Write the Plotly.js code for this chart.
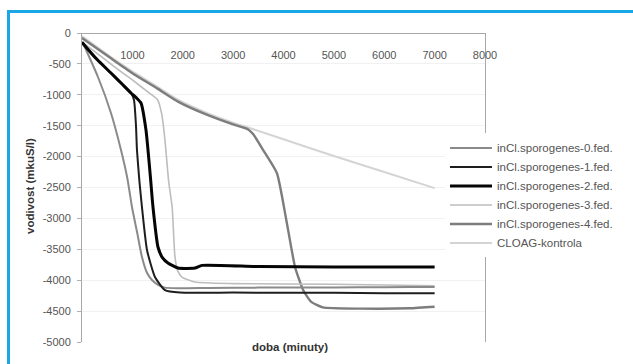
<!DOCTYPE html>
<html>
<head>
<meta charset="utf-8">
<script src="https://cdn.plot.ly/plotly-3.0.1.min.js"></script>
<style>
  html, body { margin: 0; padding: 0; background: #ffffff; }
  #wrap { position: relative; width: 633px; height: 364px; overflow: hidden; }
  #frame { position: absolute; left: 7px; top: 10px; width: 640px; height: 370px;
           border-left: 3px solid #1ba6e6; border-top: 3px solid #1ba6e6; box-sizing: border-box; }
  #chart { position: absolute; left: 0; top: 0; width: 633px; height: 364px; }
</style>
</head>
<body>
<div id="wrap">
  <div id="frame"></div>
  <div id="chart"></div>
</div>
<script>
// time in minutes, conductivity values
const seriesNames = [
  'inCl.sporogenes-0.fed.',
  'inCl.sporogenes-1.fed.',
  'inCl.sporogenes-2.fed.',
  'inCl.sporogenes-3.fed.',
  'inCl.sporogenes-4.fed.',
  'CLOAG-kontrola'
];

const t0 = [0, 20, 317, 575, 774, 900, 992, 1100, 1190, 1290, 1389, 1500, 1647, 1900, 2500, 3500, 4500, 5500, 6500, 7000];
const v0 = [-150, -170, -712, -1294, -1893, -2350, -2816, -3250, -3625, -3880, -3997, -4070, -4120, -4130, -4125, -4120, -4120, -4115, -4110, -4110];

const t1 = [0, 20, 300, 575, 800, 972, 1032, 1071, 1091, 1140, 1190, 1290, 1448, 1647, 1944, 3000, 4000, 5000, 6000, 7000];
const v1 = [-150, -170, -430, -647, -830, -971, -1084, -1489, -1893, -2400, -2816, -3511, -3948, -4160, -4200, -4200, -4205, -4205, -4210, -4210];

const t2 = [0, 20, 300, 575, 800, 972, 1080, 1171, 1270, 1310, 1360, 1409, 1508, 1600, 1706, 1905, 2242, 2381, 3500, 5000, 7000];
const v2 = [-150, -170, -430, -647, -830, -971, -1050, -1133, -1570, -1893, -2350, -2816, -3463, -3640, -3722, -3803, -3803, -3760, -3780, -3785, -3785];

const t3 = [0, 300, 600, 1000, 1300, 1500, 1580, 1630, 1660, 1720, 1790, 1845, 1900, 1984, 2242, 3000, 5000, 7000];
const v3 = [-150, -330, -520, -760, -950, -1080, -1300, -1600, -1850, -2400, -2820, -3620, -3850, -3950, -4030, -4055, -4065, -4090];

const t4 = [0, 575, 1000, 1500, 1905, 2500, 3000, 3300, 3400, 3600, 3870, 4050, 4230, 4390, 4550, 4780, 5500, 6500, 7000];
const v4 = [-80, -410, -650, -900, -1110, -1330, -1480, -1560, -1640, -1900, -2270, -3000, -3790, -4160, -4350, -4440, -4460, -4455, -4430];

const tK = [0, 575, 1000, 1500, 1905, 2500, 3000, 3300, 4000, 5000, 6000, 7000];
const vK = [-50, -390, -620, -870, -1080, -1300, -1450, -1530, -1720, -1990, -2250, -2510];

const xTickVals = [1000, 2000, 3000, 4000, 5000, 6000, 7000, 8000];
const xTickText = ['1000', '2000', '3000', '4000', '5000', '6000', '7000', '8000'];
const yTickVals = [0, -500, -1000, -1500, -2000, -2500, -3000, -3500, -4000, -4500, -5000];
const yTickText = ['0', '-500', '-1000', '-1500', '-2000', '-2500', '-3000', '-3500', '-4000', '-4500', '-5000'];

const xTitle = 'doba (minuty)';
const yTitle = 'vodivost (mkuS/l)';

// line styles per series
const styles = [
  { color: '#8a8a8a', width: 2 },
  { color: '#1e1e1e', width: 2 },
  { color: '#050505', width: 3 },
  { color: '#bdbdbd', width: 1.6 },
  { color: '#7d7d7d', width: 2.4 },
  { color: '#d4d4d4', width: 2 }
];

const xs = [t0, t1, t2, t3, t4, tK];
const ys = [v0, v1, v2, v3, v4, vK];

const traces = xs.map((x, i) => ({
  type: 'scatter',
  mode: 'lines',
  x: x,
  y: ys[i],
  name: seriesNames[i],
  legendrank: i + 1,
  line: { color: styles[i].color, width: styles[i].width, shape: 'spline', smoothing: 0.5 }
}));

// draw the light control line underneath the others
const order = [5, 4, 3, 0, 1, 2];
const data = order.map(i => traces[i]);

const layout = {
  width: 633,
  height: 364,
  margin: { l: 82, r: 148, t: 33, b: 22 },
  paper_bgcolor: 'rgba(0,0,0,0)',
  plot_bgcolor: '#ffffff',
  font: { family: 'Liberation Sans, Arial, sans-serif', size: 11, color: '#555555' },
  showlegend: true,
  legend: {
    x: 0.9007, xanchor: 'left',
    y: 0.675, yanchor: 'top',
    bgcolor: '#ffffff',
    borderwidth: 0,
    itemwidth: 42,
    font: { size: 11.5, color: '#555555' }
  },
  xaxis: {
    range: [0, 8000],
    anchor: 'free',
    position: 1,
    side: 'bottom',
    tickmode: 'array',
    tickvals: xTickVals,
    ticktext: xTickText,
    ticks: '',
    ticklabelstandoff: 12,
    showline: true,
    mirror: true,
    linecolor: '#a8a8a8',
    linewidth: 1,
    showgrid: false,
    zeroline: false,
    tickfont: { size: 11, color: '#555555' }
  },
  yaxis: {
    range: [-5000, 0],
    tickmode: 'array',
    tickvals: yTickVals,
    ticktext: yTickText,
    ticks: 'outside',
    ticklen: 4,
    tickcolor: '#b0b0b0',
    ticklabelstandoff: 4,
    showline: true,
    mirror: true,
    linecolor: '#a8a8a8',
    linewidth: 1,
    showgrid: true,
    gridcolor: '#f1f1f1',
    zeroline: false,
    tickfont: { size: 11, color: '#555555' }
  },
  annotations: [
    {
      xref: 'paper', yref: 'paper',
      x: 0.516, y: -0.016,
      xanchor: 'center', yanchor: 'middle',
      text: xTitle, showarrow: false,
      font: { size: 11.5, color: '#333333', weight: 'bold' }
    },
    {
      xref: 'paper', yref: 'paper',
      x: -0.129, y: 0.505,
      xanchor: 'center', yanchor: 'middle',
      textangle: -90,
      text: yTitle, showarrow: false,
      font: { size: 11.5, color: '#333333', weight: 'bold' }
    }
  ]
};

Plotly.newPlot('chart', data, layout, { displayModeBar: false, staticPlot: true });
</script>
</body>
</html>
